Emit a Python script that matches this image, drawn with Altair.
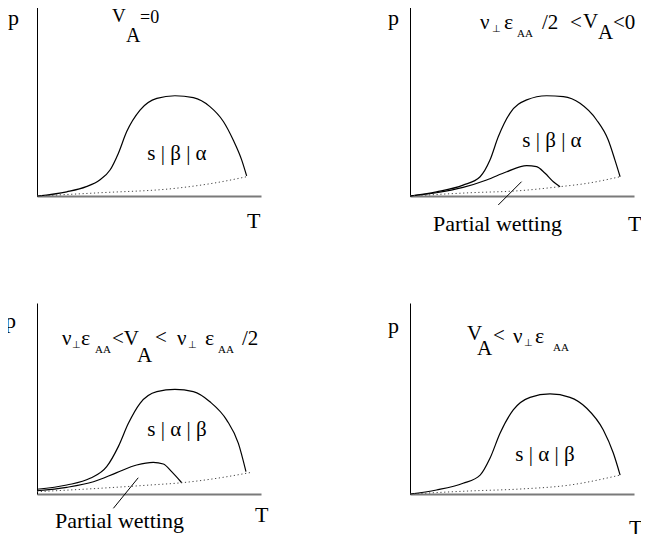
import altair as alt
import pandas as pd

FONT = "Liberation Serif"

# ---------------- data (T, p) ----------------
# Panel 1: V_A = 0
p1_big_T = [0, 0.133, 0.22, 0.28, 0.326, 0.363, 0.4, 0.46, 0.535, 0.616, 0.698, 0.772, 0.832, 0.876, 0.914, 0.936]
p1_big_p = [0, 0.022, 0.049, 0.084, 0.136, 0.223, 0.336, 0.45, 0.511, 0.525, 0.515, 0.468, 0.39, 0.293, 0.188, 0.105]
p1_dot_T = [0, 0.281, 0.616, 0.802, 0.936]
p1_dot_p = [0, 0.017, 0.04, 0.07, 0.101]

# Panel 2
p2_big_T = [0, 0.118, 0.237, 0.313, 0.357, 0.394, 0.446, 0.521, 0.61, 0.685, 0.759, 0.833, 0.885, 0.915, 0.938]
p2_big_p = [0, 0.022, 0.057, 0.101, 0.188, 0.31, 0.433, 0.503, 0.525, 0.52, 0.485, 0.398, 0.293, 0.188, 0.101]
p2_small_T = [0, 0.118, 0.237, 0.342, 0.432, 0.521, 0.565, 0.603, 0.64, 0.67]
p2_small_p = [0, 0.017, 0.045, 0.084, 0.127, 0.159, 0.154, 0.119, 0.075, 0.049]
p2_dot_T = [0, 0.268, 0.491, 0.67, 0.789, 0.938]
p2_dot_p = [0, 0.017, 0.028, 0.049, 0.066, 0.101]
p2_ptr_T = [0.394, 0.498]
p2_ptr_p = [-0.047, 0.075]

# Panel 3
p3_big_T = [0, 0.133, 0.237, 0.311, 0.363, 0.408, 0.46, 0.535, 0.616, 0.698, 0.772, 0.847, 0.899, 0.933]
p3_big_p = [0.025, 0.047, 0.082, 0.143, 0.248, 0.37, 0.475, 0.536, 0.548, 0.536, 0.483, 0.387, 0.265, 0.117]
p3_small_T = [0, 0.133, 0.252, 0.356, 0.445, 0.519, 0.564, 0.601, 0.646]
p3_small_p = [0.017, 0.035, 0.064, 0.112, 0.152, 0.166, 0.157, 0.117, 0.059]
p3_dot_T = [0, 0.281, 0.504, 0.646, 0.802, 0.951]
p3_dot_p = [0.012, 0.03, 0.047, 0.059, 0.082, 0.112]
p3_ptr_T = [0.341, 0.452]
p3_ptr_p = [-0.075, 0.085]

# Panel 4
p4_big_T = [0, 0.118, 0.237, 0.313, 0.357, 0.402, 0.461, 0.536, 0.625, 0.714, 0.789, 0.863, 0.908, 0.938]
p4_big_p = [0, 0.021, 0.056, 0.099, 0.187, 0.318, 0.44, 0.506, 0.524, 0.506, 0.449, 0.335, 0.213, 0.099]
p4_dot_T = [0, 0.268, 0.491, 0.714, 0.938]
p4_dot_p = [0, 0.016, 0.026, 0.047, 0.099]

# text
region_labels = ["s | β | α", "s | β | α", "s | α | β", "s | α | β"]
partial_label = "Partial wetting"
x_title = "T"
y_title = "p"

# ---------------- layout / styling ----------------
W, H = 224, 191

scale = alt.Scale(domain=[0, 1], nice=False, zero=False)
xaxis = alt.Axis(domain=True, domainColor="#7a7a7a", domainWidth=2, labels=False,
                 ticks=False, grid=False, title=None)
yaxis = alt.Axis(domain=True, domainColor="black", domainWidth=1, labels=False,
                 ticks=False, grid=False, title=None)
X = alt.X("T:Q", scale=scale, axis=xaxis)
Y = alt.Y("p:Q", scale=scale, axis=yaxis)


def curve(T, p, dotted=False):
    df = pd.DataFrame({"T": T, "p": p})
    if dotted:
        m = alt.Chart(df).mark_line(color="#444444", strokeWidth=1, strokeDash=[1.2, 2.6],
                                    interpolate="monotone")
    else:
        m = alt.Chart(df).mark_line(color="black", strokeWidth=1.2, interpolate="monotone")
    return m.encode(x=X, y=Y)


def pointer(T, p):
    df = pd.DataFrame({"T": [T[0]], "p": [p[0]], "T2": [T[1]], "p2": [p[1]]})
    return alt.Chart(df).mark_rule(color="black", strokeWidth=1).encode(
        x=X, y=Y, x2="T2:Q", y2="p2:Q")


def txt(s, x, y, size=22, align="left", baseline="alphabetic"):
    df = pd.DataFrame({"s": [s]})
    return alt.Chart(df).mark_text(font=FONT, fontSize=size, align=align,
                                   baseline=baseline, color="black").encode(
        text="s:N", x=alt.value(x), y=alt.value(y))


titles = [
    [("V", 75, 17, 19), ("A", 89, 37, 20), ("=0", 103, 18, 18)],
    [("ν", 70, 24, 21), ("⊥", 82, 27, 10), ("ε", 94, 24, 22), ("AA", 107, 32, 11),
     ("/2", 132, 24, 21), ("<", 160, 24, 21), ("V", 173, 23, 21), ("A", 188, 34, 21),
     ("<0", 203, 24, 21)],
    [("ν", 25, 42, 21), ("⊥", 35, 45, 10), ("ε", 44, 42, 22), ("AA", 58, 50, 11),
     ("<V", 75, 42, 21), ("A", 100, 59, 21), ("<", 118, 41, 21), ("ν", 140, 42, 21),
     ("⊥", 151, 45, 10), ("ε", 168, 42, 22), ("AA", 181, 50, 11), ("/2", 205, 42, 21)],
    [("V", 57, 37, 21), ("A", 67, 52, 21), ("<", 83, 39, 21), ("ν", 103, 40, 21),
     ("⊥", 114, 43, 10), ("ε", 125, 40, 22), ("AA", 143, 48, 11)],
]
p_pos = [(-29, 20), (-22, 20), (-32, 25), (-22, 30)]
t_pos = [(210, 223), (218, 226), (218, 219), (219, 232)]
region_pos = [(140, 149), (142, 136), (140, 127), (135, 152)]
partial_pos = {1: (23, 226), 2: (18, 225)}

curves = [
    [curve(p1_big_T, p1_big_p), curve(p1_dot_T, p1_dot_p, True)],
    [curve(p2_big_T, p2_big_p), curve(p2_small_T, p2_small_p), curve(p2_dot_T, p2_dot_p, True),
     pointer(p2_ptr_T, p2_ptr_p)],
    [curve(p3_big_T, p3_big_p), curve(p3_small_T, p3_small_p), curve(p3_dot_T, p3_dot_p, True),
     pointer(p3_ptr_T, p3_ptr_p)],
    [curve(p4_big_T, p4_big_p), curve(p4_dot_T, p4_dot_p, True)],
]

panels = []
for i in range(4):
    layers = list(curves[i])
    for s, x, y, fs in titles[i]:
        layers.append(txt(s, x, y, fs))
    layers.append(txt(y_title, *p_pos[i], 22))
    layers.append(txt(x_title, *t_pos[i], 22))
    rx, ry = region_pos[i]
    layers.append(txt(region_labels[i], rx, ry, 21, align="center", baseline="middle"))
    if i in partial_pos:
        layers.append(txt(partial_label, *partial_pos[i], 22))
    panels.append(alt.layer(*layers).properties(width=W, height=H))

chart = alt.concat(*panels, columns=2, spacing={"row": 107, "column": 149},
                   bounds="flush").properties(
    padding={"left": -3, "top": -3, "right": -2, "bottom": -5}
).configure(background="white").configure_view(stroke=None)

chart.save("out.html", embed_options={"renderer": "svg", "actions": False})
